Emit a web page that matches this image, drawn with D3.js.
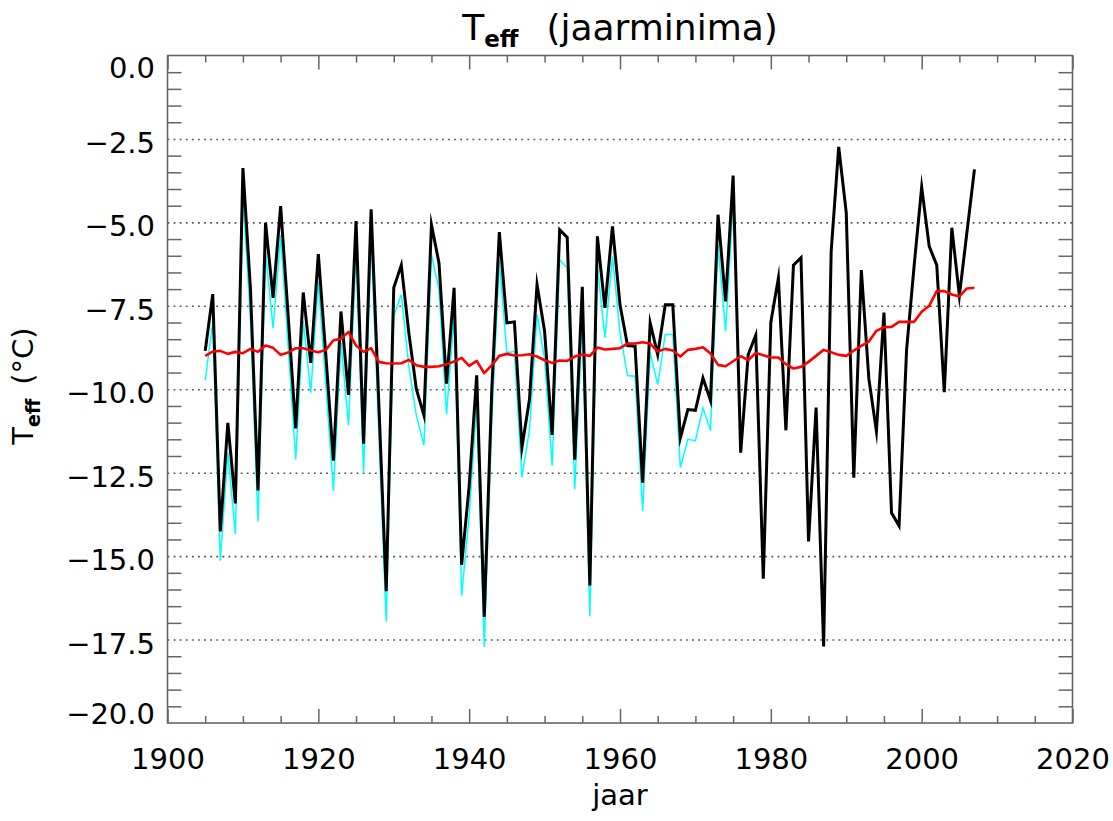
<!DOCTYPE html>
<html>
<head>
<meta charset="utf-8">
<script src="https://cdn.jsdelivr.net/npm/d3@7"></script>
<style>
  body { margin: 0; background: #fff; }
  svg { display: block; font-family: 'DejaVu Sans', sans-serif; }
</style>
</head>
<body>
<div id="chart"></div>
<script>
// Data: yearly minima of effective temperature (°C)
const FIRST_YEAR = 1905;

// black line, 1905-2007
const tEffMin = [
  -8.85, -7.15, -14.26, -11.01, -13.42, -3.37, -7.0, -13.03, -5.01, -7.26,
  -4.51, -7.8, -11.17, -7.10, -9.21, -5.95, -9.0, -12.14, -7.67, -10.17,
  -4.96, -11.63, -4.61, -10.3, -16.05, -6.96, -6.28, -8.31, -10.0, -10.78,
  -5.07, -6.22, -9.83, -6.96, -15.26, -12.9, -9.58, -16.82, -10.0, -5.29,
  -8.01, -7.98, -11.74, -10.3, -6.86, -8.26, -11.37, -5.22, -5.45, -12.11,
  -6.93, -15.88, -5.42, -7.56, -5.12, -7.47, -8.69, -8.71, -12.8, -8.01,
  -8.96, -7.47, -7.47, -11.46, -10.61, -10.63, -9.66, -10.33, -4.77, -7.37,
  -3.6, -11.9, -8.96, -8.38, -15.68, -7.99, -6.67, -11.23, -6.28, -6.06,
  -14.56, -10.55, -17.71, -5.87, -2.74, -4.71, -12.65, -6.43, -9.69, -11.26,
  -7.7, -13.7, -14.09, -8.82, -6.3, -3.94, -5.72, -6.28, -10.09, -5.16,
  -7.2, -5.3, -3.41
];

// cyan line, 1905-1975
const tEffMinAlt = [
  -9.73, -8.0, -15.14, -11.9, -14.34, -4.2, -7.9, -13.96, -5.9, -8.17,
  -5.39, -8.7, -12.1, -7.96, -10.1, -6.78, -9.9, -13.05, -8.6, -11.07,
  -5.92, -12.51, -5.5, -11.2, -16.96, -7.81, -7.16, -9.3, -10.8, -11.67,
  -5.97, -7.02, -10.75, -7.81, -16.18, -13.8, -10.4, -17.72, -10.9, -6.17,
  -8.9, -8.87, -12.64, -11.2, -7.76, -9.1, -12.29, -6.12, -6.36, -13.0,
  -7.9, -16.8, -6.3, -8.46, -6.02, -8.31, -9.59, -9.61, -13.65, -8.91,
  -9.86, -8.36, -8.36, -12.35, -11.5, -11.54, -10.56, -11.24, -5.67, -8.26,
  -4.47
];

// red line (running mean), 1905-2007
const tEffMean = [
  -9.0, -8.87, -8.85, -8.94, -8.88, -8.92, -8.79, -8.88, -8.69, -8.76,
  -8.97, -8.9, -8.77, -8.77, -8.84, -8.89, -8.82, -8.53, -8.49, -8.28,
  -8.69, -8.88, -8.77, -9.18, -9.22, -9.23, -9.22, -9.12, -9.28, -9.33,
  -9.33, -9.31, -9.25, -9.17, -9.06, -9.3, -9.15, -9.52, -9.28, -9.0,
  -8.94, -8.99, -8.98, -8.95, -9.02, -9.13, -9.21, -9.14, -9.15, -9.02,
  -8.96, -9.0, -8.75, -8.81, -8.79, -8.77, -8.63, -8.63, -8.59, -8.63,
  -8.87, -8.79, -8.84, -9.02, -8.82, -8.79, -8.74, -8.93, -9.27, -9.31,
  -9.16, -9.01, -9.13, -8.91, -8.98, -9.05, -9.05, -9.25, -9.38, -9.33,
  -9.18, -9.0, -8.82, -8.89, -8.97, -9.0, -8.84, -8.7, -8.57, -8.25,
  -8.14, -8.13, -7.98, -7.98, -7.98, -7.68, -7.5, -7.06, -7.06, -7.16,
  -7.22, -6.98, -6.96
];

const X_TICKS = [1900, 1920, 1940, 1960, 1980, 2000, 2020];
const Y_TICKS = [0, -2.5, -5, -7.5, -10, -12.5, -15, -17.5, -20];
const Y_TICK_LABELS = ['0.0', '\u22122.5', '\u22125.0', '\u22127.5', '\u221210.0',
  '\u221212.5', '\u221215.0', '\u221217.5', '\u221220.0'];

// Layout
const WIDTH = 1113, HEIGHT = 821;
const PLOT = {left: 167.5, right: 1072.5, top: 55.5, bottom: 723};
const FONT_SIZE = 29;
const AXIS_COLOR = '#666';

const svg = d3.select('#chart').append('svg')
  .attr('width', WIDTH)
  .attr('height', HEIGHT);

svg.append('rect').attr('width', WIDTH).attr('height', HEIGHT).attr('fill', '#fff');

const x = d3.scaleLinear().domain([1900, 2020]).range([PLOT.left, PLOT.right]);
const y = d3.scaleLinear().domain([-20, 0]).range([PLOT.bottom, PLOT.top]);
const plotW = PLOT.right - PLOT.left;

const toSeries = arr => arr.map((v, i) => ({year: FIRST_YEAR + i, value: v}));

// Dotted grid at the interior major y ticks
svg.append('g')
  .attr('transform', `translate(${PLOT.left},0)`)
  .call(d3.axisLeft(y).tickValues(Y_TICKS.slice(1, -1)).tickSize(-plotW).tickFormat(''))
  .call(g => g.select('.domain').remove())
  .call(g => g.selectAll('line')
    .attr('stroke', '#555').attr('stroke-width', 1.6).attr('stroke-dasharray', '1.8,4.3'));

// Minor ticks on y (both sides)
const yMinor = d3.range(0, -20.01, -0.5).filter(v => Math.abs(v % 2.5) > 0.01);
const styleTicks = g => {
  g.select('.domain').remove();
  g.selectAll('line').attr('stroke', AXIS_COLOR).attr('stroke-width', 1.5);
};
svg.append('g')
  .attr('transform', `translate(${PLOT.left},0)`)
  .call(d3.axisLeft(y).tickValues(yMinor).tickSize(-14).tickFormat(''))
  .call(styleTicks);
svg.append('g')
  .attr('transform', `translate(${PLOT.right},0)`)
  .call(d3.axisRight(y).tickValues(yMinor).tickSize(-14).tickFormat(''))
  .call(styleTicks);

// x ticks (bottom and top)
const xMinor = d3.range(1905, 2020, 5).filter(v => v % 20 !== 0);
[[d3.axisBottom, PLOT.bottom], [d3.axisTop, PLOT.top]].forEach(([axisFn, pos]) => {
  svg.append('g')
    .attr('transform', `translate(0,${pos})`)
    .call(axisFn(x).tickValues(X_TICKS).tickSize(-14).tickFormat(''))
    .call(styleTicks);
  svg.append('g')
    .attr('transform', `translate(0,${pos})`)
    .call(axisFn(x).tickValues(xMinor).tickSize(-7).tickFormat(''))
    .call(styleTicks);
});

// Frame
svg.append('rect')
  .attr('x', PLOT.left).attr('y', PLOT.top)
  .attr('width', plotW).attr('height', PLOT.bottom - PLOT.top)
  .attr('fill', 'none').attr('stroke', AXIS_COLOR).attr('stroke-width', 1.6);

// x tick labels
svg.append('g')
  .attr('transform', `translate(0,${PLOT.bottom})`)
  .call(d3.axisBottom(x).tickValues(X_TICKS).tickSize(0).tickFormat(d3.format('d')))
  .call(g => g.select('.domain').remove())
  .call(g => g.selectAll('text')
    .attr('y', 46).attr('dy', null)
    .attr('font-family', 'DejaVu Sans').attr('font-size', FONT_SIZE).attr('fill', '#000'));

// y tick labels (IDL pulls the end labels inside the frame)
svg.append('g')
  .attr('transform', `translate(${PLOT.left},0)`)
  .call(d3.axisLeft(y).tickValues(Y_TICKS).tickSize(0).tickPadding(12.5)
    .tickFormat((d, i) => Y_TICK_LABELS[i]))
  .call(g => g.select('.domain').remove())
  .call(g => g.selectAll('text')
    .attr('dy', null)
    .attr('y', (d, i) => i === 0 ? 22 : (i === Y_TICKS.length - 1 ? 0 : 13.6))
    .attr('font-family', 'DejaVu Sans').attr('font-size', FONT_SIZE).attr('fill', '#000'));

// Lines
const line = d3.line().x(d => x(d.year)).y(d => y(d.value));

svg.append('path')
  .datum(toSeries(tEffMinAlt))
  .attr('d', line)
  .attr('fill', 'none').attr('stroke', '#00ffff').attr('stroke-width', 1.5)
  .attr('stroke-linejoin', 'miter');

svg.append('path')
  .datum(toSeries(tEffMin))
  .attr('d', line)
  .attr('fill', 'none').attr('stroke', '#000').attr('stroke-width', 3)
  .attr('stroke-linejoin', 'miter').attr('stroke-miterlimit', 10);

svg.append('path')
  .datum(toSeries(tEffMean))
  .attr('d', line)
  .attr('fill', 'none').attr('stroke', '#ff0000').attr('stroke-width', 2.6)
  .attr('stroke-linejoin', 'round');

// Title
const title = svg.append('text')
  .attr('x', (PLOT.left + PLOT.right) / 2).attr('y', 40)
  .attr('text-anchor', 'middle')
  .attr('font-size', 36).attr('fill', '#000');
title.append('tspan').text('T');
title.append('tspan').attr('dy', 7).attr('font-size', 23).attr('font-weight', 'bold').text('eff');
title.append('tspan').attr('dy', -7).attr('dx', 28).text('(jaarminima)');

// Axis titles
svg.append('text')
  .attr('x', (PLOT.left + PLOT.right) / 2).attr('y', 805)
  .attr('text-anchor', 'middle')
  .attr('font-size', FONT_SIZE).attr('fill', '#000')
  .text('jaar');

const yTitle = svg.append('text')
  .attr('transform', 'translate(33,386) rotate(-90)')
  .attr('text-anchor', 'middle')
  .attr('font-size', FONT_SIZE).attr('fill', '#000');
yTitle.append('tspan').text('T');
yTitle.append('tspan').attr('dy', 7).attr('font-size', 19).attr('font-weight', 'bold').text('eff');
yTitle.append('tspan').attr('dy', -7).attr('dx', 14).text('(\u00b0C)');
</script>
</body>
</html>
